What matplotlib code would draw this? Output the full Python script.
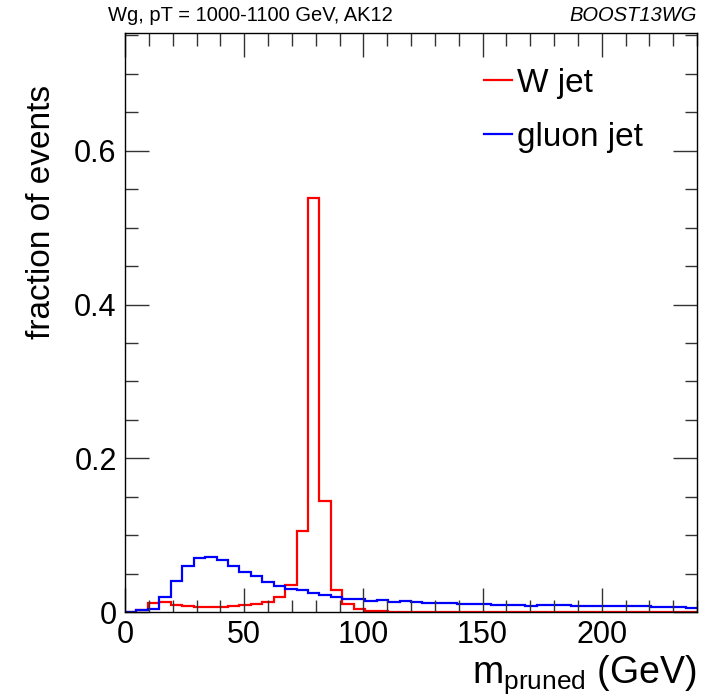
#!/usr/bin/env python3
"""
Pruned jet mass: W jet vs gluon jet, normalised to fraction of events.
Saves: out.png
"""

import numpy as np
import matplotlib
matplotlib.use("Agg")
import matplotlib.pyplot as plt
from matplotlib.ticker import MultipleLocator

plt.rcParams["font.family"] = ["Liberation Sans", "DejaVu Sans"]
plt.rcParams["mathtext.default"] = "regular"

# 50 bins of 4.8 GeV between 0 and 240 GeV
X_MIN, X_MAX, N_BINS = 0.0, 240.0, 50

w_jet = [
    0.0000, 0.0027, 0.0115, 0.0133, 0.0093, 0.0080, 0.0071, 0.0062, 0.0062, 0.0075,
    0.0088, 0.0100, 0.0133, 0.0190, 0.0354, 0.1050, 0.5380, 0.1450, 0.0290, 0.0101,
    0.0044, 0.0013, 0.0013, 0.0005, 0.0005, 0.0006, 0.0001, 0.0001, 0.0001, 0.0001,
    0.0000, 0.0000, 0.0000, 0.0000, 0.0000, 0.0000, 0.0000, 0.0000, 0.0000, 0.0000,
    0.0000, 0.0000, 0.0000, 0.0000, 0.0000, 0.0000, 0.0000, 0.0000, 0.0000, 0.0000,
]

gluon_jet = [
    0.0000, 0.0020, 0.0040, 0.0190, 0.0400, 0.0600, 0.0700, 0.0712, 0.0677, 0.0597,
    0.0518, 0.0473, 0.0385, 0.0336, 0.0296, 0.0282, 0.0242, 0.0225, 0.0190, 0.0170,
    0.0165, 0.0144, 0.0154, 0.0133, 0.0142, 0.0130, 0.0114, 0.0114, 0.0114, 0.0101,
    0.0101, 0.0101, 0.0092, 0.0092, 0.0092, 0.0083, 0.0096, 0.0088, 0.0088, 0.0075,
    0.0075, 0.0075, 0.0075, 0.0075, 0.0075, 0.0075, 0.0066, 0.0066, 0.0066, 0.0057,
]

labels = ["W jet", "gluon jet"]
colors = ["#ff0000", "#0000ff"]

fig = plt.figure(figsize=(7.05, 6.96), dpi=100)
ax = fig.add_axes([125 / 705, 1 - 612 / 696, 572 / 705, 579 / 696])

edges = np.linspace(X_MIN, X_MAX, N_BINS + 1)
for vals, lab, col in zip([w_jet, gluon_jet], labels, colors):
    ax.stairs(vals, edges, color=col, linewidth=1.6, label=lab, baseline=None)

ymax = 1.4 * max(w_jet)
ax.set_xlim(X_MIN, X_MAX)
ax.set_ylim(0, ymax)

# ROOT-style ticks: inside, on all four sides
ax.xaxis.set_major_locator(MultipleLocator(50))
ax.xaxis.set_minor_locator(MultipleLocator(10))
ax.yaxis.set_major_locator(MultipleLocator(0.2))
ax.yaxis.set_minor_locator(MultipleLocator(0.05))
ax.tick_params(which="both", direction="in", top=True, right=True, width=1.0,
               color="#333333")
ax.tick_params(which="major", length=17, labelsize=22, pad=6)
ax.tick_params(which="minor", length=9)
ax.set_yticks([0, 0.2, 0.4, 0.6], ["0", "0.2", "0.4", "0.6"])
for sp in ax.spines.values():
    sp.set_linewidth(1.0)

fig.text(42 / 705, 1 - 212 / 696, "fraction of events", fontsize=24,
         rotation=90, ha="center", va="center")
fig.text(697 / 705, 1 - 683 / 696, r"m$_{pruned}$ (GeV)", fontsize=27,
         ha="right", va="baseline")

fig.text(108 / 705, 1 - 21 / 696, "Wg, pT = 1000-1100 GeV, AK12",
         fontsize=14.5, ha="left", va="baseline")
fig.text(697 / 705, 1 - 21 / 696, "BOOST13WG", fontsize=14.5,
         style="italic", ha="right", va="baseline")

ax.legend(loc="upper left", bbox_to_anchor=(0.604, 0.963), frameon=False,
          fontsize=24, handlelength=0.85, handletextpad=0.15, labelspacing=0.7,
          borderaxespad=0)

fig.savefig("out.png", dpi=100, facecolor="white")
